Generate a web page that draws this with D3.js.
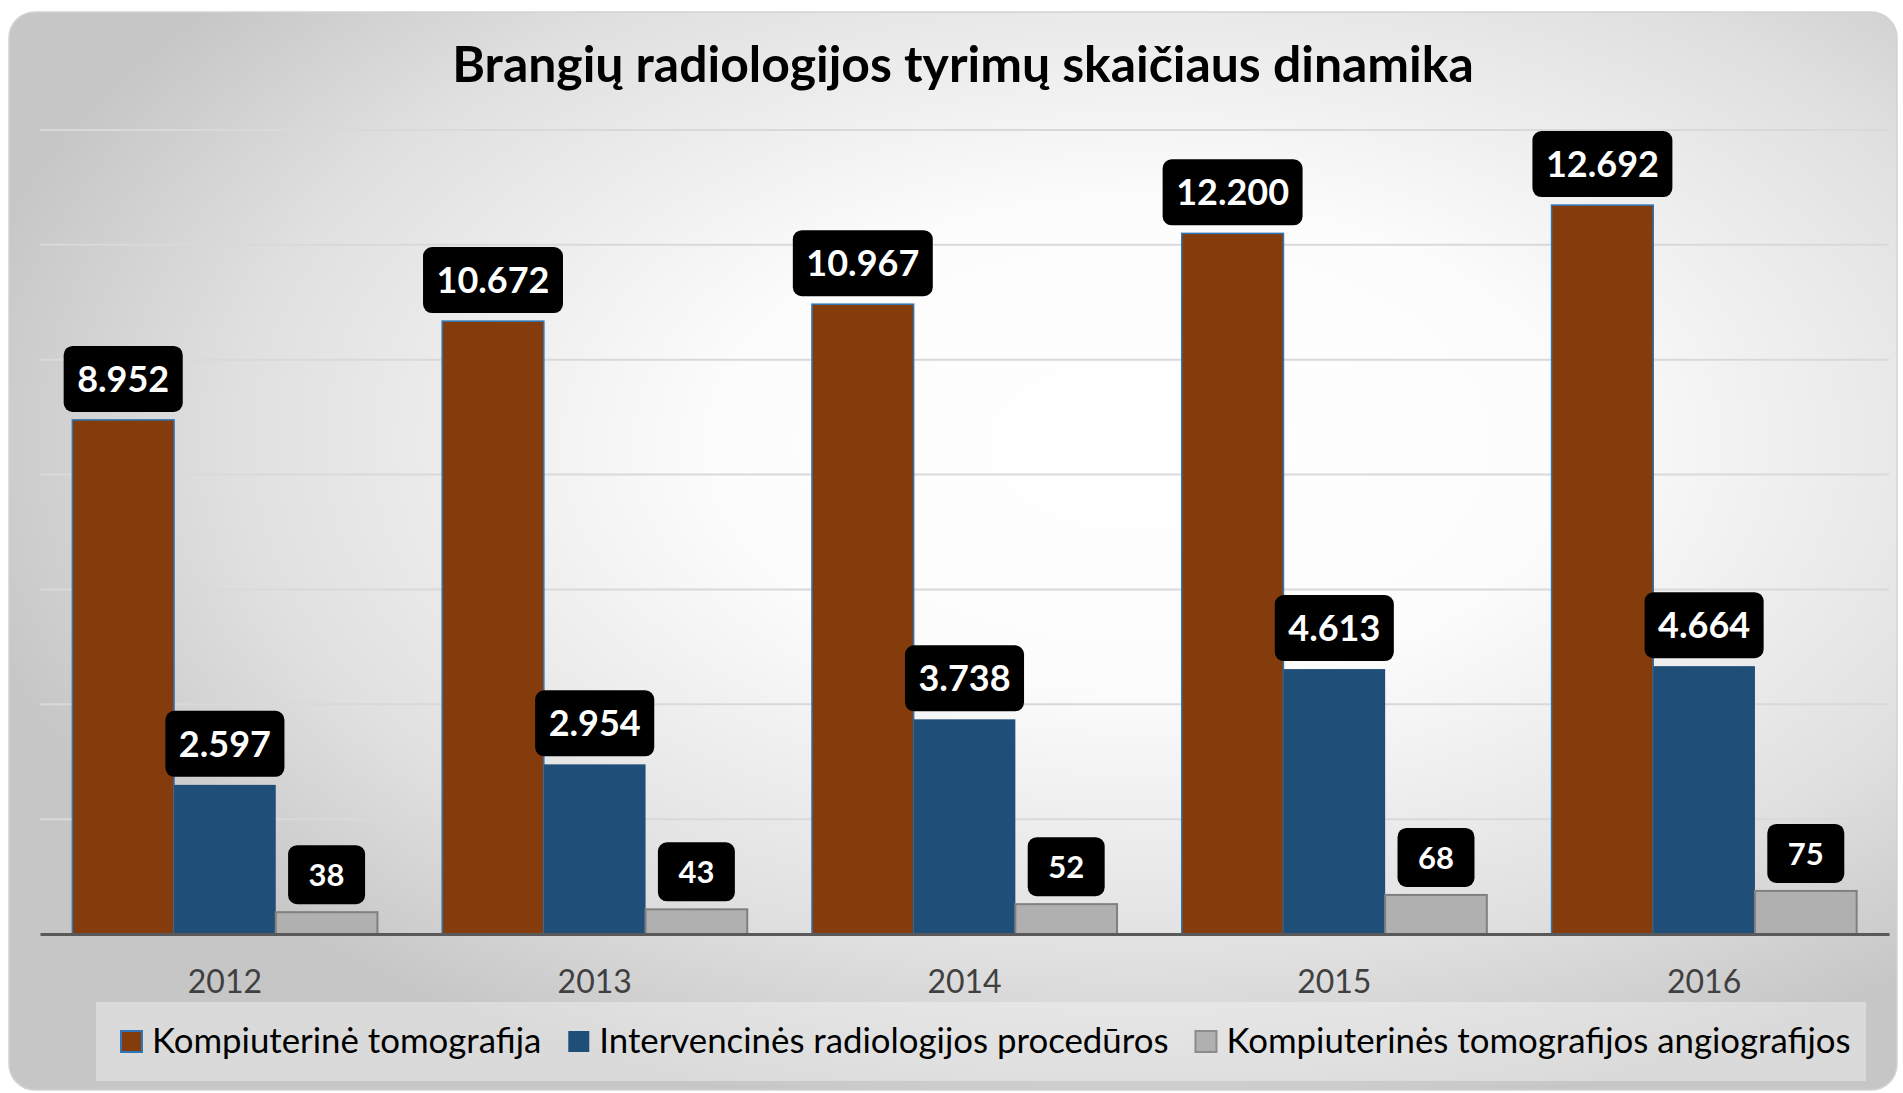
<!DOCTYPE html>
<html>
<head>
<meta charset="utf-8">
<script src="https://cdnjs.cloudflare.com/ajax/libs/d3/7.8.5/d3.min.js"></script>
<style>
  body { margin:0; background:#fff; }
  svg text { font-family: Lato, "Open Sans", sans-serif; }
</style>
</head>
<body>
<div id="content"></div>
<script>
(function(){

  ////////////////////////////////////////////////////////////
  //////////////////////// data //////////////////////////////
  ////////////////////////////////////////////////////////////
  var years = ["2012","2013","2014","2015","2016"];
  var seriesNames = ["Kompiuterinė tomografija",
                     "Intervencinės radiologijos procedūros",
                     "Kompiuterinės tomografijos angiografijos"];
  var ctValues = [8952, 10672, 10967, 12200, 12692];
  var irValues = [2597, 2954, 3738, 4613, 4664];
  // grey bars are drawn taller than their labels in the original
  var ctaBars = [380, 430, 520, 680, 750];
  var ctaLabels = ["38", "43", "52", "68", "75"];
  var ctLabels = ["8.952", "10.672", "10.967", "12.200", "12.692"];
  var irLabels = ["2.597", "2.954", "3.738", "4.613", "4.664"];
  var yTicks = [0, 2000, 4000, 6000, 8000, 10000, 12000, 14000];

  var title = "Brangių radiologijos tyrimų skaičiaus dinamika";

  var W = 1903, H = 1093;
  var plot = {left: 40, right: 1889, top: 130, bottom: 934};

  var svg = d3.select("#content").append("svg")
      .attr("width", W)
      .attr("height", H);

  // background gradient
  var defs = svg.append("defs");
  var grad = defs.append("radialGradient")
      .attr("id", "bg")
      .attr("cx", 0.6).attr("cy", 0.4).attr("r", 0.64);
  grad.append("stop").attr("offset", 0).attr("stop-color", "#ffffff");
  grad.append("stop").attr("offset", 0.35).attr("stop-color", "#fcfcfc");
  grad.append("stop").attr("offset", 0.75).attr("stop-color", "#e0e0e0");
  grad.append("stop").attr("offset", 1).attr("stop-color", "#c6c6c6");

  svg.append("rect")
      .attr("x", 9).attr("y", 12)
      .attr("width", 1888).attr("height", 1078)
      .attr("rx", 26)
      .style("fill", "url(#bg)")
      .style("stroke", "#d2d2d2")
      .style("stroke-width", 1.5);

  // title
  var t = svg.append("text")
      .attr("x", 963)
      .attr("y", 82)
      .attr("text-anchor", "middle")
      .style("font-weight", "bold")
      .style("font-size", "44px")
      .style("fill", "#000")
      .text(title);
  fitText(t, 1022);

  // scales
  var x0 = d3.scaleBand()
      .domain(years)
      .range([plot.left, plot.right])
      .paddingInner(0.175)
      .paddingOuter(0.0875);

  var x1 = d3.scaleBand()
      .domain([0, 1, 2])
      .range([0, x0.bandwidth()]);

  var y = d3.scaleLinear()
      .domain([0, 14000])
      .range([plot.bottom, plot.top]);

  // gridlines
  svg.append("g")
      .selectAll("line")
      .data(yTicks.slice(1))
    .enter().append("line")
      .attr("x1", plot.left)
      .attr("x2", plot.right)
      .attr("y1", function(d){ return y(d); })
      .attr("y2", function(d){ return y(d); })
      .style("stroke", "#d9d9d9")
      .style("stroke-width", 2);

  var series = [
    {vals: ctValues, labels: ctLabels, fill: "#843c0c", stroke: "#2e75b6", sw: 1.5, fs: 36, pad: 13.5, bh: 66},
    {vals: irValues, labels: irLabels, fill: "#1f4e79", stroke: "#1f4e79", sw: 0, fs: 36, pad: 13.5, bh: 66},
    {vals: ctaBars, labels: ctaLabels, fill: "#b0b0b0", stroke: "#808080", sw: 2, fs: 31, pad: 20.5, bh: 59}
  ];

  var groups = svg.append("g")
      .selectAll("g")
      .data(years)
    .enter().append("g")
      .attr("transform", function(d){ return "translate(" + x0(d) + ",0)"; });

  series.forEach(function(s, si){
    groups.append("rect")
        .attr("x", x1(si))
        .attr("width", x1.bandwidth())
        .attr("y", function(d, i){ return y(s.vals[i]); })
        .attr("height", function(d, i){ return y(0) - y(s.vals[i]); })
        .style("fill", s.fill)
        .style("stroke", s.sw ? s.stroke : "none")
        .style("stroke-width", s.sw);
  });

  // axis
  var xAxis = d3.axisBottom(x0).tickSize(0).tickPadding(36);
  var ax = svg.append("g")
      .attr("transform", "translate(0," + y(0) + ")")
      .call(xAxis);
  ax.select(".domain")
      .style("stroke", "#595959")
      .style("stroke-width", 3);
  ax.selectAll("text")
      .style("font-family", "Lato, sans-serif")
      .style("font-size", "32px")
      .style("fill", "#404040");

  // data labels
  series.forEach(function(s, si){
    var lab = groups.append("g")
        .attr("transform", function(d, i){
          return "translate(" + (x1(si) + x1.bandwidth() / 2) + "," + (y(s.vals[i]) - 8) + ")";
        });
    lab.append("rect")
        .attr("rx", 9)
        .style("fill", "#000");
    var txt = lab.append("text")
        .attr("text-anchor", "middle")
        .attr("y", -s.bh / 2 + s.fs * 0.36)
        .style("font-weight", "bold")
        .style("font-size", s.fs + "px")
        .style("fill", "#fff")
        .text(function(d, i){ return s.labels[i]; });
    txt.each(function(){
      var w = this.getComputedTextLength() + 2 * s.pad;
      d3.select(this.parentNode).select("rect")
          .attr("x", -w / 2)
          .attr("y", -s.bh)
          .attr("width", w)
          .attr("height", s.bh);
    });
  });

  // legend
  svg.append("rect")
      .attr("x", 96).attr("y", 1002)
      .attr("width", 1770).attr("height", 79)
      .style("fill", "#ffffff")
      .style("fill-opacity", 0.35);

  var lx = 121;
  series.forEach(function(s, si){
    svg.append("rect")
        .attr("x", lx).attr("y", 1031)
        .attr("width", 21).attr("height", 21)
        .style("fill", s.fill)
        .style("stroke", si == 1 ? "none" : (si == 0 ? "#2e75b6" : "#8c8c8c"))
        .style("stroke-width", 2);
    var lt = svg.append("text")
        .attr("x", lx + 31)
        .attr("y", 1053)
        .style("font-size", "34.8px")
        .style("fill", "#000")
        .text(seriesNames[si]);
    lx += 31 + lt.node().getComputedTextLength() + 27;
  });

  function fitText(sel, target){
    var w = sel.node().getComputedTextLength();
    var fs = parseFloat(sel.style("font-size"));
    sel.style("font-size", (fs * target / w) + "px");
  }

})();
</script>
</body>
</html>
